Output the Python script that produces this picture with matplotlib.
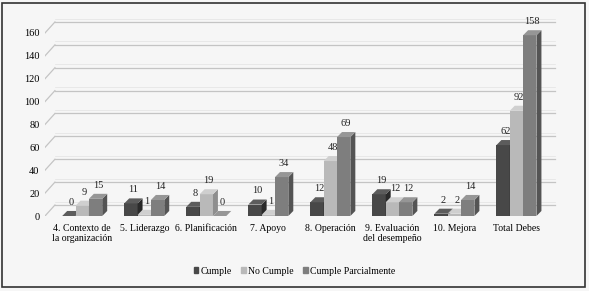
import numpy as np
import matplotlib.pyplot as plt
from matplotlib.patches import Patch, Rectangle

plt.rcParams['font.family'] = 'serif'
plt.rcParams['font.serif'] = ['Liberation Serif', 'DejaVu Serif']

categories = ["4. Contexto de\nla organización", "5. Liderazgo", "6. Planificación",
              "7. Apoyo", "8. Operación", "9. Evaluación\ndel desempeño",
              "10. Mejora", "Total Debes"]
cumple = [0, 11, 8, 10, 12, 19, 2, 62]
no_cumple = [9, 1, 19, 1, 48, 12, 2, 92]
parcial = [15, 14, 0, 34, 69, 12, 14, 158]
series_names = ["Cumple", "No Cumple", "Cumple Parcialmente"]
yticks = [0, 20, 40, 60, 80, 100, 120, 140, 160]

# front, side, top shades
shades = [("#484848", "#2a2a2a", "#5c5c5c"),
          ("#b9b9b9", "#8e8e8e", "#cfcfcf"),
          ("#7e7e7e", "#545454", "#969696")]

fig = plt.figure(figsize=(5.89, 2.91), dpi=100, facecolor="#f6f6f6")
ax = fig.add_axes([45 / 589, 1 - 216 / 291, 500 / 589, 200 / 291])
ax.set_facecolor("none")
xmin, xmax = -0.6, 7.46
ymax = 200 / 1.144
ax.set_xlim(xmin, xmax)
ax.set_ylim(0, ymax)

# 3D wall offsets (data units)
wx, wy = 0.16, 9.6
for v in yticks:
    ax.plot([xmin + wx, xmax + wx], [v + wy, v + wy], color="#c4c4c4", lw=0.9, zorder=0, clip_on=False)
    ax.plot([xmin, xmin + wx], [v, v + wy], color="#c4c4c4", lw=0.9, zorder=0)
    ax.plot([xmin + wx, xmax + wx], [v + wy + 3, v + wy + 3], color="#e2e2e2", lw=0.5, zorder=0, clip_on=False)

# bars with a small depth effect
bw = 0.215
dx, dy = 0.08, 4.4
x = np.arange(len(categories))
for k, vals in enumerate([cumple, no_cumple, parcial]):
    front, side, top = shades[k]
    xs = x + (k - 1) * bw
    for xi, v in zip(xs, vals):
        l, r = xi - bw / 2, xi + bw / 2
        ax.bar(xi, v, width=bw, color=front, zorder=3 + k, linewidth=0)
        ax.fill([r, r + dx, r + dx, r], [0, dy, v + dy, v], color=side, zorder=3 + k, lw=0)
        ax.fill([l, l + dx, r + dx, r], [v, v + dy, v + dy, v], color=top, zorder=3 + k, lw=0)
        ax.annotate(str(v), (xi + dx / 2, v + dy), xytext=(0, 3), textcoords="offset points",
                    ha="center", va="bottom", fontsize=7.5, color="#222222", zorder=10)

ax.set_yticks(yticks)
ax.set_yticklabels([str(t) for t in yticks], fontsize=7.5)
ax.set_xticks(x)
ax.set_xticklabels(categories, fontsize=7, linespacing=1.1)
ax.tick_params(length=0, pad=4)
ax.tick_params(axis="x", pad=6)
for s in ax.spines.values():
    s.set_visible(False)

handles = [Patch(color=shades[k][0]) for k in range(3)]
fig.legend(handles, series_names, loc="center", bbox_to_anchor=(0.5, 1 - 271 / 291), ncol=3,
           frameon=False, fontsize=7, handlelength=0.5, handleheight=0.5, handletextpad=0.2,
           columnspacing=1.0)

fig.patches.append(Rectangle((2 / 589, 4 / 291), 583 / 589, 284 / 291, transform=fig.transFigure,
                             fill=False, edgecolor="#333333", lw=1.2))

fig.savefig("out.png", dpi=100, facecolor=fig.get_facecolor())
